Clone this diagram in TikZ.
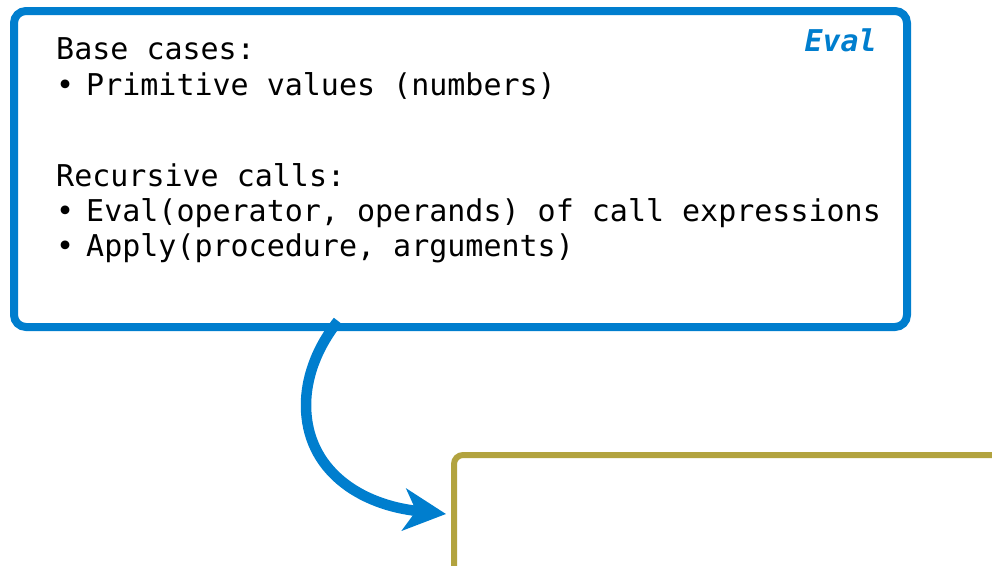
\documentclass[tikz,border=0pt]{standalone}
\usepackage{fontspec}
\setmonofont{DejaVu Sans Mono}
\usetikzlibrary{arrows.meta}
\definecolor{evalblue}{RGB}{0,126,206}
\definecolor{applyolive}{RGB}{178,163,63}
\tikzset{
  txt/.style={anchor=base west, inner sep=0pt, font=\ttfamily\fontsize{30}{36}\selectfont, text=black},
  bul/.style={anchor=base west, inner sep=0pt, font=\ttfamily\fontsize{30}{36}\selectfont, text=black},
  lbl/.style={anchor=base east, inner sep=0pt, font=\ttfamily\bfseries\itshape\fontsize{30}{36}\selectfont, text=evalblue},
  evalbox/.style={draw=evalblue, line width=8pt, rounded corners=12pt, fill=white},
  applybox/.style={draw=applyolive, line width=6pt, rounded corners=9pt},
  flow/.style={draw=evalblue, line width=10.5pt, -{Stealth[length=42pt,width=42pt,inset=12pt]}}
}
\begin{document}
\begin{tikzpicture}[x=1pt,y=-1pt]
\useasboundingbox (0,0) rectangle (992,565);
\clip (0,0) rectangle (992,565);
% Eval box
\node[evalbox, minimum width=893pt, minimum height=316pt, anchor=north west] (eval) at (10,7) {};
\node[lbl] (evallbl) at (877,51) {Eval};
\node[txt] (base) at (56,59) {Base cases:};
\node[bul] (b1) at (56,95) {•};
\node[txt] (prim) at (86,95) {Primitive values (numbers)};
\node[txt] (rec) at (56,186) {Recursive calls:};
\node[bul] (b2) at (56,221) {•};
\node[txt] (evalcall) at (86,221) {Eval(operator, operands) of call expressions};
\node[bul] (b3) at (56,256) {•};
\node[txt] (applycall) at (86,256) {Apply(procedure, arguments)};
% Apply box (cut off)
\coordinate (apbl) at (454,620);
\coordinate (aptl) at (454,455);
\coordinate (aptr) at (1010,455);
\draw[applybox] (apbl) -- (aptl) -- (aptr);
% arrow
\coordinate (start) at (338,321);
\coordinate (mid) at (306,405);
\coordinate (tip) at (446,514);
\draw[flow] (start) .. controls (315,350) and (306,380) .. (mid)
  .. controls (306,470) and (360,505) .. (tip);
\end{tikzpicture}
\end{document}
